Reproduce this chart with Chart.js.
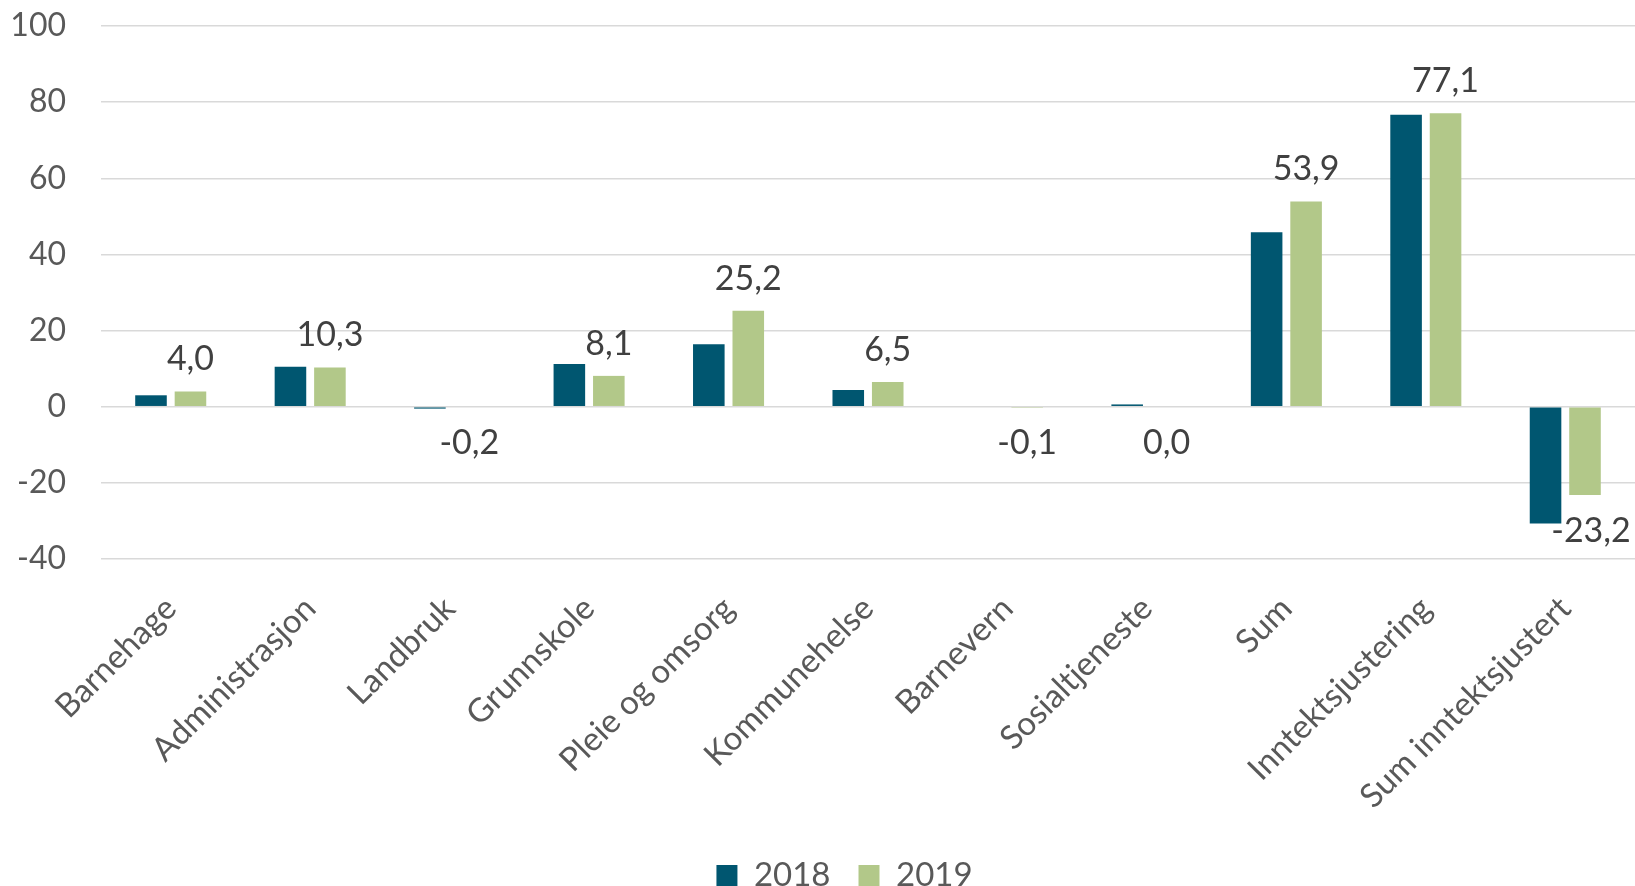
<!DOCTYPE html>
<html>
<head>
<meta charset="utf-8">
<script src="https://cdn.jsdelivr.net/npm/chart.js@4/dist/chart.umd.min.js"></script>
<style>
  html, body { margin: 0; padding: 0; background: #ffffff; }
  #wrap { width: 1635px; height: 886px; position: relative; }
</style>
</head>
<body>
<div id="wrap"><canvas id="c"></canvas></div>
<script>
const categories = ["Barnehage", "Administrasjon", "Landbruk", "Grunnskole", "Pleie og omsorg", "Kommunehelse", "Barnevern", "Sosialtjeneste", "Sum", "Inntektsjustering", "Sum inntektsjustert"];
const values2018 = [3.0, 10.5, -0.5, 11.2, 16.4, 4.4, 0.0, 0.6, 45.8, 76.7, -30.7];
const values2019 = [4.0, 10.3, -0.2, 8.1, 25.2, 6.5, -0.1, 0.0, 53.9, 77.1, -23.2];
const seriesNames = ["2018", "2019"];
const yTicks = { min: -40, max: 100, step: 20 };

const FONT = "Lato, 'Open Sans', 'Noto Sans', sans-serif";

const labelPlugin = {
  id: 'valueLabels',
  afterDatasetsDraw(chart) {
    const ctx = chart.ctx;
    const meta = chart.getDatasetMeta(1);
    const data = chart.data.datasets[1].data;
    ctx.save();
    ctx.font = "34px " + FONT;
    ctx.fillStyle = "#404040";
    ctx.textAlign = "center";
    ctx.textBaseline = "middle";
    meta.data.forEach((bar, i) => {
      const v = data[i];
      const txt = v.toFixed(1).replace('.', ',').replace('-0,0', '0,0');
      const y = v > 0 ? bar.y - 32 : bar.y + 36;
      ctx.fillText(txt, bar.x + (i === data.length - 1 ? 6 : 0), y);
    });
    ctx.restore();
  }
};

const legendShift = {
  id: 'legendShift',
  afterLayout(chart) {
    const lg = chart.legend;
    if (lg) { lg.left += 27; lg.right += 27; }
  }
};

new Chart(document.getElementById('c'), {
  type: 'bar',
  data: {
    labels: categories,
    datasets: [
      { label: seriesNames[0], data: values2018, backgroundColor: '#005670', categoryPercentage: 0.566, barPercentage: 0.8 },
      { label: seriesNames[1], data: values2019, backgroundColor: '#B2C889', categoryPercentage: 0.566, barPercentage: 0.8 }
    ]
  },
  options: {
    responsive: true,
    maintainAspectRatio: false,
    animation: false,
    layout: { padding: { left: 0, right: 0, top: 26, bottom: -16 } },
    plugins: {
      legend: {
        position: 'bottom',
        labels: {
          boxWidth: 21, boxHeight: 21, padding: 28,
          color: '#595959',
          font: { size: 33, family: FONT }
        }
      },
      tooltip: { enabled: false }
    },
    scales: {
      x: {
        grid: { display: false, drawTicks: false },
        border: { display: false },
        ticks: {
          autoSkip: false, minRotation: 45, maxRotation: 45,
          color: '#595959', font: { size: 33, family: FONT }, padding: 30
        },
        afterFit(axis) { axis.height = 272; }
      },
      y: {
        min: yTicks.min, max: yTicks.max,
        grid: { color: '#D9D9D9', lineWidth: 1.5, drawTicks: false },
        border: { display: false },
        ticks: {
          stepSize: yTicks.step, padding: 35,
          color: '#595959', font: { size: 32, family: FONT }
        },
        afterFit(axis) { axis.width = 101; axis.paddingTop = 0; axis.paddingBottom = 0; }
      }
    }
  },
  plugins: [labelPlugin, legendShift]
});
</script>
</body>
</html>
